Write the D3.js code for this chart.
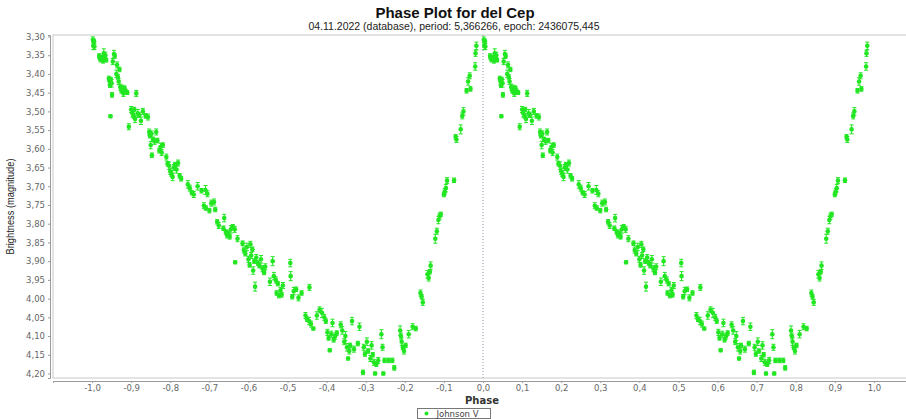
<!DOCTYPE html>
<html>
<head>
<meta charset="utf-8">
<script src="https://cdn.jsdelivr.net/npm/d3@7"></script>
<style>
  html, body { margin: 0; padding: 0; background: #fff; }
  svg { display: block; }
</style>
</head>
<body>
<svg id="chart" width="906" height="419"></svg>
<script>
// Johnson V observations of delta Cephei, folded on the period
// phase in [0,1), magnitude, 1-sigma error
const phase = [
  0.002, 0.003, 0.005, 0.006, 0.018, 0.020, 0.022, 0.024, 0.026, 0.028, 0.030, 0.032, 0.034, 0.036,
  0.043, 0.045, 0.046, 0.047, 0.048, 0.050, 0.051, 0.053, 0.056, 0.058,
  0.062, 0.064, 0.066, 0.068, 0.070, 0.072, 0.075, 0.077, 0.080, 0.083, 0.086, 0.090, 0.094,
  0.100, 0.103, 0.106, 0.108, 0.110, 0.113, 0.117, 0.120,
  0.125, 0.130, 0.137, 0.143, 0.146, 0.148, 0.150, 0.152, 0.153, 0.156, 0.160, 0.164, 0.167,
  0.172, 0.175, 0.178, 0.181, 0.190, 0.193, 0.197,
  0.200, 0.203, 0.206, 0.209, 0.212, 0.216, 0.220, 0.224, 0.228, 0.245, 0.250, 0.255, 0.260,
  0.270, 0.280, 0.290, 0.295, 0.286, 0.291, 0.300, 0.305, 0.312, 0.315,
  0.320, 0.324, 0.338, 0.336, 0.342, 0.345, 0.348, 0.352, 0.355, 0.360, 0.365, 0.366, 0.372,
  0.385, 0.388, 0.392, 0.396, 0.405, 0.410,
  0.400, 0.403, 0.407, 0.412, 0.415, 0.417, 0.420, 0.424, 0.428, 0.432, 0.436, 0.440, 0.443,
  0.455, 0.462, 0.465, 0.470, 0.472, 0.475, 0.478, 0.482, 0.485, 0.488,
  0.507, 0.508, 0.512, 0.516, 0.522, 0.528, 0.536, 0.556, 0.546, 0.550, 0.555, 0.560, 0.566,
  0.575, 0.582, 0.588, 0.594, 0.598,
  0.602, 0.605, 0.608, 0.612, 0.615, 0.618, 0.622, 0.626, 0.636, 0.640, 0.645, 0.648, 0.652,
  0.655, 0.658, 0.660, 0.665, 0.670, 0.680, 0.684,
  0.693, 0.695, 0.698, 0.703, 0.706, 0.712, 0.715, 0.718, 0.721, 0.724, 0.727, 0.732, 0.740,
  0.743, 0.745, 0.748, 0.758, 0.768, 0.773,
  0.788, 0.790, 0.792, 0.795, 0.798, 0.802, 0.810, 0.820, 0.828,
  0.840, 0.843, 0.846, 0.858, 0.861, 0.864, 0.866, 0.878, 0.882, 0.886, 0.889, 0.892,
  0.900, 0.902, 0.905, 0.908, 0.926,
  0.930, 0.932, 0.943, 0.947, 0.950, 0.958, 0.962, 0.966, 0.968, 0.980, 0.981, 0.983
];
const mag = [
  3.309, 3.325, 3.313, 3.327, 3.352, 3.358, 3.362, 3.355, 3.360, 3.365, 3.345, 3.357, 3.350, 3.363,
  3.412, 3.420, 3.430, 3.513, 3.415, 3.425, 3.456, 3.367, 3.347, 3.352,
  3.400, 3.376, 3.408, 3.420, 3.388, 3.435, 3.445, 3.440, 3.452, 3.438, 3.447, 3.450, 3.541,
  3.495, 3.505, 3.512, 3.495, 3.520, 3.452, 3.505, 3.510,
  3.525, 3.500, 3.512, 3.515, 3.555, 3.565, 3.590, 3.560, 3.617, 3.575, 3.580, 3.555, 3.578,
  3.605, 3.595, 3.610, 3.590, 3.622, 3.640, 3.645,
  3.660, 3.668, 3.675, 3.650, 3.642, 3.655, 3.638, 3.672, 3.680, 3.695, 3.705, 3.717, 3.722,
  3.700, 3.712, 3.710, 3.720, 3.752, 3.758, 3.765, 3.745, 3.742, 3.762,
  3.795, 3.805, 3.785, 3.812, 3.822, 3.830, 3.825, 3.835, 3.815, 3.808, 3.815, 3.903, 3.840,
  3.852, 3.870, 3.880, 3.862, 3.855, 3.868,
  3.895, 3.910, 3.885, 3.925, 3.900, 3.968, 3.890, 3.905, 3.912, 3.895, 3.920, 3.930, 3.915,
  3.955, 3.900, 3.940, 3.950, 3.985, 3.960, 3.992, 3.978, 3.990, 3.965,
  3.905, 3.940, 3.995, 3.980, 3.975, 3.998, 3.985, 3.970, 4.045, 4.055, 4.060, 4.068, 4.080,
  4.045, 4.030, 4.038, 4.050, 4.060,
  4.090, 4.105, 4.138, 4.095, 4.065, 4.110, 4.100, 4.092, 4.070, 4.085, 4.115, 4.100, 4.130,
  4.160, 4.140, 4.125, 4.060, 4.135, 4.120, 4.075,
  4.197, 4.130, 4.148, 4.115, 4.140, 4.160, 4.125, 4.150, 4.170, 4.200, 4.175, 4.165, 4.095,
  4.130, 4.200, 4.165, 4.165, 4.165, 4.185,
  4.085, 4.100, 4.115, 4.130, 4.140, 4.125, 4.095, 4.075, 4.080,
  3.985, 3.995, 4.010, 3.935, 3.945, 3.928, 3.912, 3.840, 3.820, 3.790, 3.780, 3.775,
  3.722, 3.715, 3.705, 3.685, 3.684,
  3.568, 3.575, 3.548, 3.512, 3.500, 3.445, 3.420, 3.405, 3.440, 3.380, 3.345, 3.325
];
const err = [
  0.008, 0.010, 0.006, 0.008, 0.006, 0.005, 0.006, 0.005, 0.005, 0.006, 0.012, 0.006, 0.008, 0.005,
  0.006, 0.008, 0.006, 0.004, 0.006, 0.010, 0.006, 0.008, 0.010, 0.006,
  0.010, 0.008, 0.006, 0.008, 0.006, 0.008, 0.006, 0.010, 0.008, 0.006, 0.006, 0.005, 0.008,
  0.008, 0.010, 0.006, 0.006, 0.010, 0.008, 0.010, 0.006,
  0.010, 0.008, 0.006, 0.008, 0.008, 0.006, 0.010, 0.008, 0.006, 0.006, 0.008, 0.008, 0.006,
  0.006, 0.010, 0.008, 0.006, 0.008, 0.006, 0.010,
  0.008, 0.006, 0.010, 0.008, 0.006, 0.010, 0.008, 0.006, 0.006, 0.010, 0.008, 0.006, 0.008,
  0.010, 0.006, 0.012, 0.008, 0.008, 0.006, 0.006, 0.008, 0.008, 0.006,
  0.006, 0.008, 0.010, 0.006, 0.006, 0.008, 0.006, 0.006, 0.010, 0.006, 0.008, 0.004, 0.008,
  0.006, 0.008, 0.006, 0.010, 0.008, 0.006,
  0.008, 0.006, 0.008, 0.010, 0.006, 0.012, 0.008, 0.006, 0.006, 0.010, 0.008, 0.006, 0.008,
  0.010, 0.012, 0.010, 0.008, 0.006, 0.006, 0.006, 0.008, 0.006, 0.008,
  0.010, 0.012, 0.006, 0.010, 0.006, 0.008, 0.006, 0.008, 0.008, 0.006, 0.010, 0.008, 0.004,
  0.010, 0.008, 0.012, 0.008, 0.006,
  0.008, 0.006, 0.004, 0.008, 0.010, 0.006, 0.008, 0.006, 0.008, 0.010, 0.008, 0.012, 0.010,
  0.004, 0.008, 0.006, 0.010, 0.008, 0.006, 0.010,
  0.006, 0.008, 0.006, 0.010, 0.006, 0.008, 0.010, 0.006, 0.008, 0.004, 0.006, 0.008, 0.012,
  0.008, 0.004, 0.006, 0.006, 0.006, 0.006,
  0.012, 0.008, 0.010, 0.006, 0.008, 0.006, 0.010, 0.008, 0.006,
  0.008, 0.006, 0.008, 0.010, 0.008, 0.006, 0.010, 0.012, 0.008, 0.010, 0.008, 0.006,
  0.006, 0.008, 0.010, 0.008, 0.006,
  0.006, 0.008, 0.012, 0.008, 0.010, 0.006, 0.010, 0.008, 0.006, 0.010, 0.008, 0.010
];

const xTicks = [-1.0, -0.9, -0.8, -0.7, -0.6, -0.5, -0.4, -0.3, -0.2, -0.1, 0.0, 0.1, 0.2, 0.3, 0.4, 0.5, 0.6, 0.7, 0.8, 0.9, 1.0];
const yTicks = [3.30, 3.35, 3.40, 3.45, 3.50, 3.55, 3.60, 3.65, 3.70, 3.75, 3.80, 3.85, 3.90, 3.95, 4.00, 4.05, 4.10, 4.15, 4.20];

const titleText = "Phase Plot for del Cep";
const subtitleText = "04.11.2022 (database), period: 5,366266, epoch: 2436075,445";
const xLabel = "Phase";
const yLabel = "Brightness (magnitude)";
const seriesName = "Johnson V";

const green = "#22e622";
const svg = d3.select("#chart");

// plot area (right side runs past the window edge, as the phase range is symmetric)
const plot = { left: 53, right: 913, top: 35, bottom: 378 };

const x = d3.scaleLinear().domain([-1.1, 1.1]).range([plot.left, plot.right]);
const y = d3.scaleLinear().domain([3.296, 4.212]).range([plot.top, plot.bottom]);

const comma = (v, n) => v.toFixed(n).replace(".", ",");

// titles
svg.append("text")
  .attr("x", 455).attr("y", 18)
  .attr("text-anchor", "middle")
  .style("font-family", "'Liberation Sans', Arial, sans-serif")
  .style("font-weight", "bold").style("font-size", "15px")
  .attr("fill", "#111")
  .text(titleText);

svg.append("text")
  .attr("x", 454).attr("y", 30)
  .attr("text-anchor", "middle")
  .style("font-family", "'Liberation Sans', Arial, sans-serif")
  .style("font-size", "10.5px")
  .attr("fill", "#222")
  .text(subtitleText);

// plot background and outline
svg.append("rect")
  .attr("x", plot.left).attr("y", plot.top)
  .attr("width", plot.right - plot.left).attr("height", plot.bottom - plot.top)
  .attr("fill", "#fff").attr("stroke", "#c8c8c8").attr("stroke-width", 1);

// zero-phase marker
svg.append("line")
  .attr("x1", x(0)).attr("x2", x(0))
  .attr("y1", plot.top).attr("y2", plot.bottom)
  .attr("stroke", "#8a9bb0").attr("stroke-width", 1)
  .attr("stroke-dasharray", "1,2");

// axes
const tickFont = g => g.selectAll("text")
  .style("font-family", "'DejaVu Sans', Verdana, sans-serif")
  .style("font-size", "8.5px")
  .attr("fill", "#666");

const yAxis = svg.append("g")
  .attr("transform", `translate(${plot.left - 3},0)`)
  .call(d3.axisLeft(y).tickValues(yTicks).tickFormat(d => comma(d, 2)).tickSize(2).tickPadding(3))
  .call(tickFont);
yAxis.select(".domain").attr("stroke", "#999");
yAxis.selectAll(".tick line").attr("stroke", "#999");

const xAxis = svg.append("g")
  .attr("transform", `translate(0,${plot.bottom + 3})`)
  .call(d3.axisBottom(x).tickValues(xTicks).tickFormat(d => comma(d, 1)).tickSize(2).tickPadding(1.5))
  .call(tickFont);
xAxis.select(".domain").attr("stroke", "#999");
xAxis.selectAll(".tick line").attr("stroke", "#999");

// axis titles
svg.append("text")
  .attr("x", x(0) - 1).attr("y", 404)
  .attr("text-anchor", "middle")
  .style("font-family", "'DejaVu Sans', Verdana, sans-serif")
  .style("font-weight", "bold").style("font-size", "10px")
  .attr("fill", "#333")
  .text(xLabel);

svg.append("text")
  .attr("transform", `translate(14,${(plot.top + plot.bottom) / 2}) rotate(-90)`)
  .attr("text-anchor", "middle")
  .attr("textLength", 96).attr("lengthAdjust", "spacingAndGlyphs")
  .style("font-family", "'Liberation Sans', Arial, sans-serif")
  .style("font-size", "11px")
  .attr("fill", "#222")
  .text(yLabel);

// observations drawn twice: at phase p and p - 1
const obs = phase.flatMap((p, i) => [
  { p: p, m: mag[i], e: err[i] },
  { p: p - 1, m: mag[i], e: err[i] }
]);

const marks = svg.append("g");

const pt = marks.selectAll("g.obs").data(obs).join("g").attr("class", "obs");

pt.append("line")
  .attr("x1", d => x(d.p)).attr("x2", d => x(d.p))
  .attr("y1", d => y(d.m - d.e)).attr("y2", d => y(d.m + d.e))
  .attr("stroke", green).attr("stroke-width", 1);
pt.append("line")
  .attr("x1", d => x(d.p) - 2).attr("x2", d => x(d.p) + 2)
  .attr("y1", d => y(d.m - d.e)).attr("y2", d => y(d.m - d.e))
  .attr("stroke", green).attr("stroke-width", 1);
pt.append("line")
  .attr("x1", d => x(d.p) - 2).attr("x2", d => x(d.p) + 2)
  .attr("y1", d => y(d.m + d.e)).attr("y2", d => y(d.m + d.e))
  .attr("stroke", green).attr("stroke-width", 1);
pt.append("circle")
  .attr("cx", d => x(d.p)).attr("cy", d => y(d.m))
  .attr("r", 2.3)
  .attr("fill", green);

// legend
const lg = svg.append("g").attr("transform", "translate(417.5,408.5)");
lg.append("rect")
  .attr("width", 73).attr("height", 10)
  .attr("fill", "#fff").attr("stroke", "#777").attr("stroke-width", 1);
lg.append("circle").attr("cx", 9).attr("cy", 5).attr("r", 2).attr("fill", green);
lg.append("text")
  .attr("x", 19).attr("y", 8.3)
  .style("font-family", "'DejaVu Sans', Verdana, sans-serif")
  .style("font-size", "8.5px")
  .attr("fill", "#444")
  .text(seriesName);
</script>
</body>
</html>
